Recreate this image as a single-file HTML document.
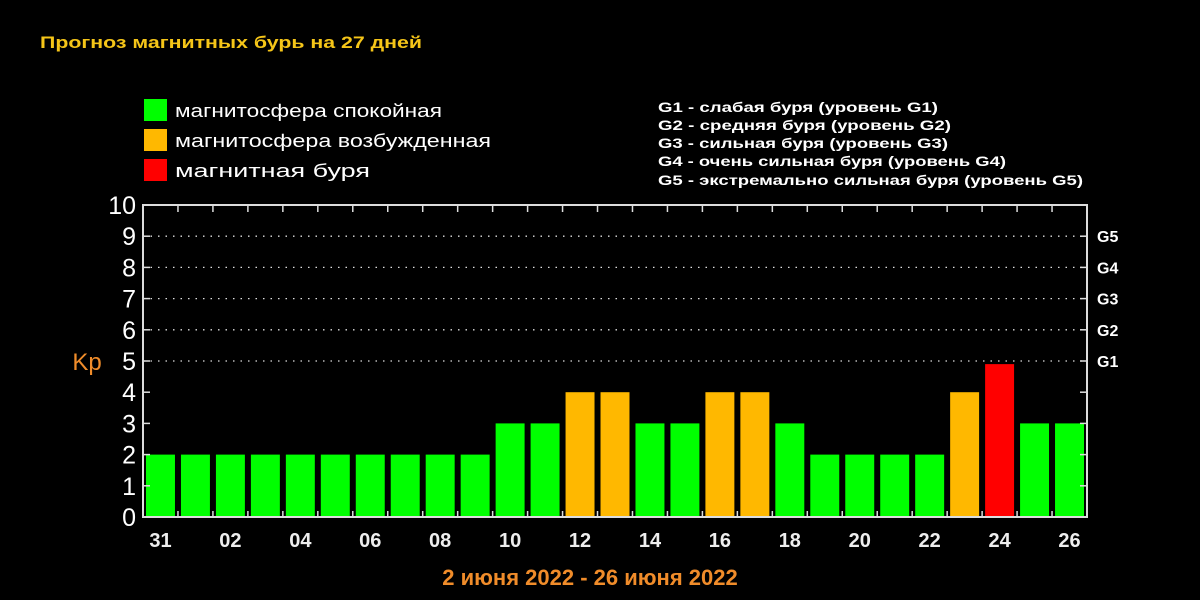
<!DOCTYPE html>
<html><head><meta charset="utf-8"><style>
html,body{margin:0;padding:0;background:#000;}
svg{display:block;font-family:"Liberation Sans","DejaVu Sans",sans-serif;}
</style></head><body>
<svg id="chart" width="1200" height="600" viewBox="0 0 1200 600">
<rect x="0" y="0" width="1200" height="600" fill="#000"/>
<text x="40" y="48" fill="#f5c518" font-size="17" font-weight="bold" textLength="382" lengthAdjust="spacingAndGlyphs">Прогноз магнитных бурь на 27 дней</text>
<g>
<rect x="144" y="99" width="23" height="22" fill="#00ff00"/>
<text x="175" y="117" fill="#fff" font-size="18" textLength="267" lengthAdjust="spacingAndGlyphs">магнитосфера спокойная</text>
<rect x="144" y="129" width="23" height="22" fill="#ffb800"/>
<text x="175" y="147" fill="#fff" font-size="18" textLength="316" lengthAdjust="spacingAndGlyphs">магнитосфера возбужденная</text>
<rect x="144" y="159" width="23" height="22" fill="#ff0000"/>
<text x="175" y="177" fill="#fff" font-size="18" textLength="195" lengthAdjust="spacingAndGlyphs">магнитная буря</text>
</g>
<g fill="#fff" font-size="14" font-weight="bold">
<text x="658" y="112" textLength="280" lengthAdjust="spacingAndGlyphs">G1 - слабая буря (уровень G1)</text>
<text x="658" y="130" textLength="293" lengthAdjust="spacingAndGlyphs">G2 - средняя буря (уровень G2)</text>
<text x="658" y="148" textLength="290" lengthAdjust="spacingAndGlyphs">G3 - сильная буря (уровень G3)</text>
<text x="658" y="166" textLength="348" lengthAdjust="spacingAndGlyphs">G4 - очень сильная буря (уровень G4)</text>
<text x="658" y="185" textLength="425" lengthAdjust="spacingAndGlyphs">G5 - экстремально сильная буря (уровень G5)</text>
</g>
<g id="plot"></g>
<text x="87" y="370" fill="#f08c2a" font-size="24" text-anchor="middle">Kp</text>
<text x="590" y="585" fill="#f08c2a" font-size="22" font-weight="bold" text-anchor="middle">2 июня 2022 - 26 июня 2022</text>
</svg>
<script>
const days = ["31","01","02","03","04","05","06","07","08","09","10","11","12","13","14","15","16","17","18","19","20","21","22","23","24","25","26"];
const kpValues = [2,2,2,2,2,2,2,2,2,2,3,3,4,4,3,3,4,4,3,2,2,2,2,4,4.9,3,3];
const yTicks = [0,1,2,3,4,5,6,7,8,9,10];
const gLevels = ["G1","G2","G3","G4","G5"];
const gKp = [5,6,7,8,9];

const NS = "http://www.w3.org/2000/svg";
const plot = document.getElementById("plot");
const X0 = 143, X1 = 1087, Y0 = 517, UNIT = 31.2, STEP = (X1 - X0) / days.length;
function yScale(v){ return Y0 - v * UNIT; }
function xScale(i){ return X0 + STEP * i; }
function mk(tag, attrs){ const e = document.createElementNS(NS, tag); for (const k in attrs) e.setAttribute(k, attrs[k]); plot.appendChild(e); return e; }
function color(v){ return v >= 4.5 ? "#ff0000" : v >= 3.5 ? "#ffb800" : "#00ff00"; }

// grid lines
gKp.forEach((v) => {
  const g = mk("line", {x1: X0, x2: X1, y1: yScale(v), y2: yScale(v), stroke: "#ddd", "stroke-width": 1.3, "stroke-dasharray": "1.5 6"});
  
  
});

// bars
kpValues.forEach((v, i) => {
  const b = mk("rect", {x: xScale(i) + 3, y: yScale(v), width: STEP - 6, height: Y0 - yScale(v), fill: color(v)});
  
  
});

// frame
const f = mk("rect", {x: X0, y: yScale(10), width: X1 - X0, height: Y0 - yScale(10), fill: "none", stroke: "#ddd", "stroke-width": 2});



// y ticks and labels
yTicks.forEach((v) => {
  const t1 = mk("line", {x1: X0, x2: X0 + 7, y1: yScale(v), y2: yScale(v), stroke: "#ddd", "stroke-width": 1.5});
  
  
  const t2 = mk("line", {x1: X1 - 7, x2: X1, y1: yScale(v), y2: yScale(v), stroke: "#ddd", "stroke-width": 1.5});
  
  
  const l = mk("text", {x: 136, y: yScale(v) + 9, fill: "#fff", "font-size": 25, "text-anchor": "end"});
  l.textContent = v;
  
  
});

// G labels
gLevels.forEach((g, i) => {
  const l = mk("text", {x: 1097, y: yScale(gKp[i]) + 6, fill: "#fff", "font-size": 16, "font-weight": "bold"});
  l.textContent = g;
  
  
});

// x ticks and labels
days.forEach((d, i) => {
  if (i > 0) {
    const t = mk("line", {x1: xScale(i), x2: xScale(i), y1: yScale(10), y2: yScale(10) + 7, stroke: "#ddd", "stroke-width": 1.5});
    
    
    const b = mk("line", {x1: xScale(i), x2: xScale(i), y1: Y0 - 6, y2: Y0, stroke: "#ddd", "stroke-width": 1.5});
    
    
  }
  if (i % 2 === 0) {
    const l = mk("text", {x: xScale(i) + STEP / 2, y: 547, fill: "#eee", "font-size": 20, "font-weight": "bold", "text-anchor": "middle"});
    l.textContent = d;
    
    
  }
});
</script>
</body></html>
